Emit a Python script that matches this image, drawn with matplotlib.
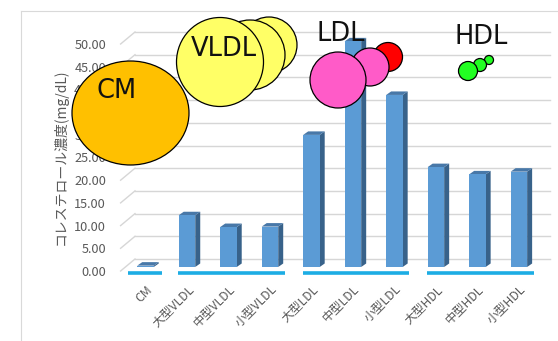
import matplotlib
matplotlib.use('Agg')
import matplotlib.pyplot as plt
from matplotlib.patches import Rectangle, Polygon, Ellipse
from matplotlib.lines import Line2D
from matplotlib.transforms import ScaledTranslation

plt.rcParams['font.family'] = ['Noto Sans CJK JP', 'DejaVu Sans']

# cholesterol per lipoprotein subclass
categories = ['CM', '大型VLDL', '中型VLDL', '小型VLDL', '大型LDL', '中型LDL',
              '小型LDL', '大型HDL', '中型HDL', '小型HDL']
values = [0.3, 11.4, 8.8, 8.9, 29.1, 49.7, 37.9, 22.0, 20.4, 21.0]
yticks = [0, 5, 10, 15, 20, 25, 30, 35, 40, 45, 50]
ylabel = 'コレステロール濃度(mg/dL)'

# lipoprotein classes and the bars they span (first, last index)
group_names = ['CM', 'VLDL', 'LDL', 'HDL']
group_first = [0, 1, 4, 7]
group_last = [0, 3, 6, 9]

# particle sketches: centre (px), size (px), colour
bub_x = [269, 250, 220, 130.5, 388, 370, 338, 489, 480, 468]
bub_y = [45, 55, 62, 113, 57, 67, 80, 60, 65, 71]
bub_w = [56, 70, 87, 117, 29, 38, 56, 9, 13, 19]
bub_h = [56, 70, 89, 104, 29, 38, 56, 9, 13, 19]
bub_c = ['#FFFF66', '#FFFF66', '#FFFF66', '#FFC000', '#FF0000', '#FF5BC8',
         '#FF5BC8', '#22FF22', '#22FF22', '#22FF22']
name_x = [117, 224, 341, 481]
name_y = [91, 49, 34, 37.5]

W, H = 558, 341
fig = plt.figure(figsize=(W / 100, H / 100), dpi=100)

# axes box in pixels (from top-left)
x0, x1 = 120.6, 550.0
xmin, xmax = -0.6, 9.75
ymin, ymax = -2, 56
sx = (x1 - x0) / (xmax - xmin)
sy = 4.54
ytop = 267 - ymax * sy
ybot = 267 - ymin * sy
ax = fig.add_axes([x0 / W, 1 - ybot / H, (x1 - x0) / W, (ybot - ytop) / H])
ax.set_xlim(xmin, xmax)
ax.set_ylim(ymin, ymax)
for s in ax.spines.values():
    s.set_visible(False)

# 3d-ish gridlines: diagonal from the front edge, then along the back wall
back_x = (135 - 145.5) / sx
for v in yticks:
    yb = v + 8 / sy
    yf = v - 4 / sy
    ax.plot([xmin, back_x], [yf, yb], color='#D6D6D6', lw=1.0, zorder=1, clip_on=False)
    ax.plot([back_x, xmax], [yb, yb], color='#D6D6D6', lw=1.0, zorder=1, clip_on=False)

# bars with side and top faces
hw = 8.25 / sx
ddx = 5 / sx
ddy = 3.5 / sy
for i, v in enumerate(values):
    ax.add_patch(Polygon([(i + hw, 0), (i + hw + ddx, ddy), (i + hw + ddx, v + ddy), (i + hw, v)],
                         closed=True, fc='#38628A', ec='none', zorder=3))
    ax.add_patch(Polygon([(i - hw, v), (i - hw + ddx, v + ddy), (i + hw + ddx, v + ddy), (i + hw, v)],
                         closed=True, fc='#4878A8', ec='none', zorder=3))
    ax.add_patch(Rectangle((i - hw, 0), 2 * hw, v, fc='#5B9BD5', ec='none', zorder=3))

# class underlines
uy = -5.5 / sy
for g, a, b in zip(group_names, group_first, group_last):
    if a == b:
        xa, xb = a - 0.41, b + 0.4
    else:
        xa, xb = a - 0.21, b + 0.36
    ax.plot([xa, xb], [uy, uy], color='#1CADE4', lw=2.6, solid_capstyle='butt', zorder=2, clip_on=False)

ax.set_yticks(yticks)
ax.set_yticklabels([f'{v:.2f}' for v in yticks])
ax.tick_params(axis='y', length=0, pad=10.5, labelsize=9.2, labelcolor='#595959')
for lbl in ax.get_yticklabels():
    lbl.set_transform(lbl.get_transform() + ScaledTranslation(0, -4 / 100, fig.dpi_scale_trans))

ax.set_xticks(range(len(categories)))
ax.set_xticklabels(categories, rotation=45, ha='right', rotation_mode='anchor')
ax.tick_params(axis='x', length=0, pad=5, labelsize=8.8, labelcolor='#595959')

ax.set_ylabel(ylabel, fontsize=10, color='#595959')
ax.yaxis.set_label_coords((60 - x0) / (x1 - x0), (ybot - 157) / (ybot - ytop))
ax.yaxis.label.set_va('center')

# chart border (top and left edges)
fig.add_artist(Line2D([21 / W, 1], [1 - 11 / H, 1 - 11 / H], color='#D9D9D9', lw=0.8))
fig.add_artist(Line2D([21 / W, 21 / W], [0, 1 - 11 / H], color='#D9D9D9', lw=0.8))

# overlay for particle sketches
ov = fig.add_axes([0, 0, 1, 1])
ov.set_xlim(0, W)
ov.set_ylim(H, 0)
ov.axis('off')
for x, y, w, h, c in zip(bub_x, bub_y, bub_w, bub_h, bub_c):
    ov.add_patch(Ellipse((x, y), w, h, fc=c, ec='black', lw=0.9))
for g, x, y in zip(group_names, name_x, name_y):
    ov.text(x, y, g, ha='center', va='center', fontsize=18.5, family='DejaVu Sans', color='#111111')

fig.savefig('out.png', dpi=100)
